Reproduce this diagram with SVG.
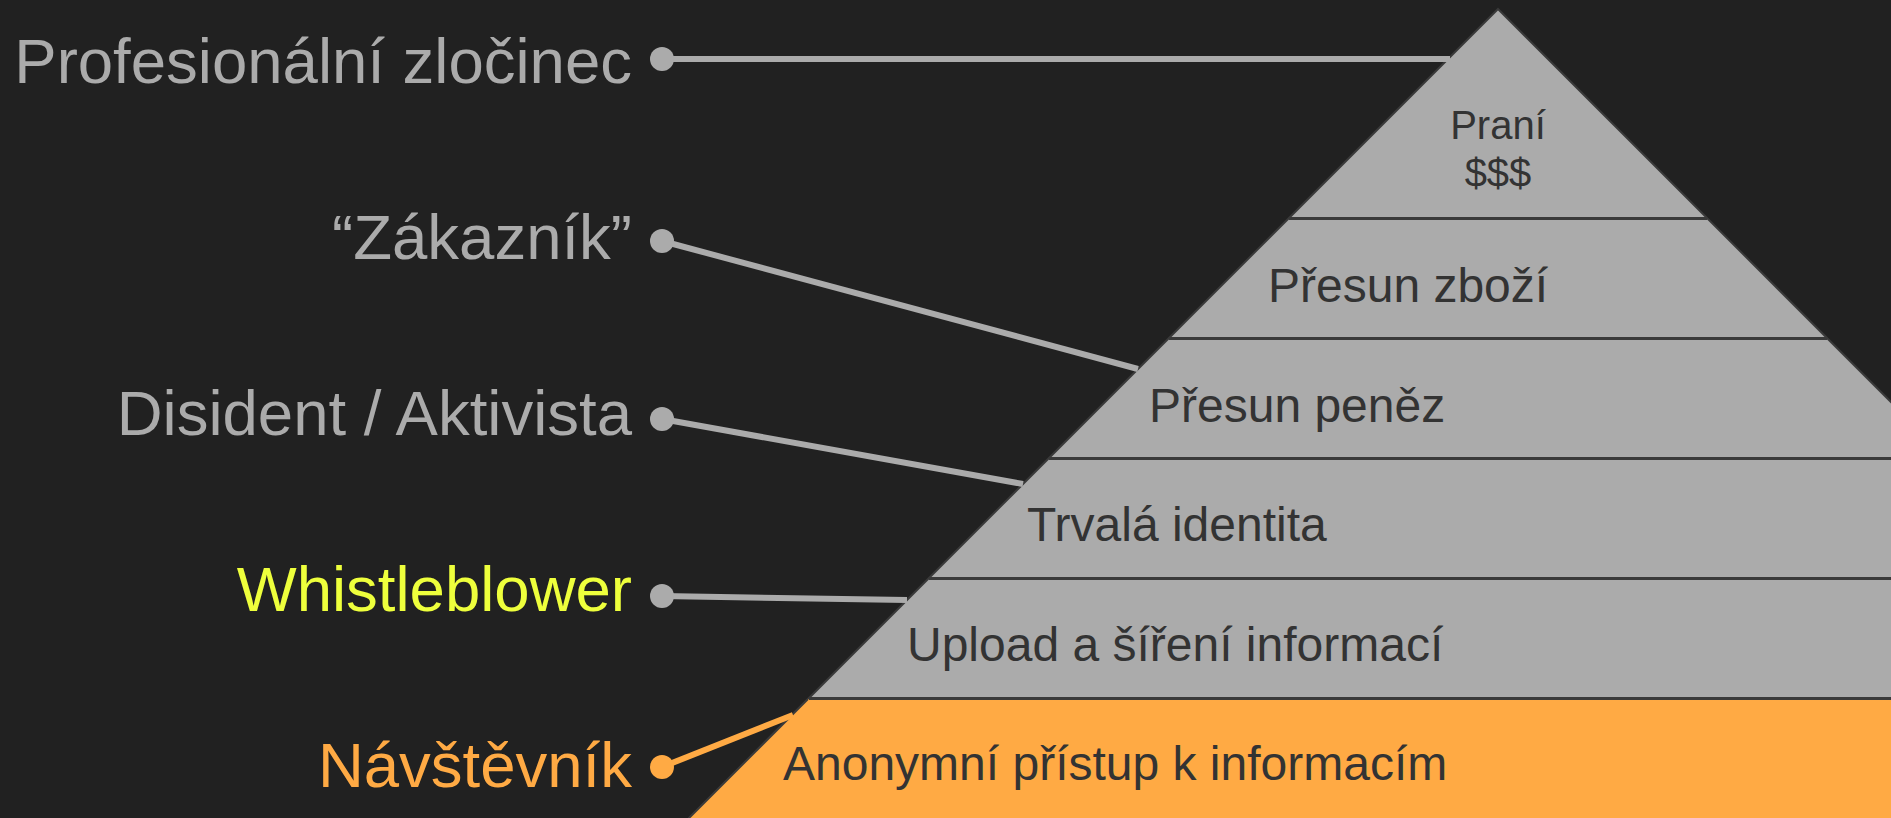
<svg xmlns="http://www.w3.org/2000/svg" width="1891" height="818" viewBox="0 0 1891 818">
<style>
.lbl{font-family:"Liberation Sans",Arial,sans-serif;font-size:63.5px;text-anchor:end}
.band{font-family:"Liberation Sans",Arial,sans-serif;font-size:48px;fill:#333333}
.top{font-family:"Liberation Sans",Arial,sans-serif;font-size:40px;fill:#333333;text-anchor:middle}
.sep{stroke:#3a3a3a;stroke-width:3}
.conn{stroke:#ababab;stroke-width:6;fill:none}
.grey{fill:#ababab}
</style>
<rect width="1891" height="818" fill="#212121"/>
<g id="pyramid">
  <polygon points="1498,9 2307,818 689,818" fill="#ababab" stroke="#3a3a3a" stroke-width="2"/>
  <polygon points="808,699 2188,699 2307,818 689,818" fill="#ffaa44"/>
  <line x1="689" y1="818" x2="808" y2="699" stroke="#3a3a3a" stroke-width="2"/>
  <line class="sep" x1="1289" y1="218.5" x2="1707" y2="218.5"/>
  <line class="sep" x1="1169" y1="338.5" x2="1827" y2="338.5"/>
  <line class="sep" x1="1049" y1="458.5" x2="1891" y2="458.5"/>
  <line class="sep" x1="929" y1="578.5" x2="1891" y2="578.5"/>
  <line class="sep" x1="809" y1="698.5" x2="1891" y2="698.5"/>
</g>
<g id="level-prani">
  <text class="top" x="1498" y="139">Praní</text>
  <text class="top" x="1498" y="187">$$$</text>
</g>
<g id="level-presun-zbozi"><text class="band" x="1268" y="302">Přesun zboží</text></g>
<g id="level-presun-penez"><text class="band" x="1149" y="421.5">Přesun peněz</text></g>
<g id="level-trvala-identita"><text class="band" x="1027" y="541">Trvalá identita</text></g>
<g id="level-upload"><text class="band" x="907" y="660.5">Upload a šíření informací</text></g>
<g id="level-anonymni"><text class="band" x="783" y="780">Anonymní přístup k informacím</text></g>
<g id="connectors">
  <line class="conn" x1="662" y1="59" x2="1450" y2="59"/>
  <line class="conn" x1="662" y1="241" x2="1138" y2="369"/>
  <line class="conn" x1="662" y1="419" x2="1023" y2="484"/>
  <line class="conn" x1="662" y1="596" x2="907" y2="600"/>
  <line x1="662" y1="767" x2="793" y2="715" stroke="#ffaa44" stroke-width="6"/>
</g>
<g id="label-profesionalni">
  <text class="lbl" x="632" y="83" fill="#ababab">Profesionální zločinec</text>
  <circle class="grey" cx="662" cy="59" r="12"/>
</g>
<g id="label-zakaznik">
  <text class="lbl" x="632" y="259" fill="#ababab">“Zákazník”</text>
  <circle class="grey" cx="662" cy="241" r="12"/>
</g>
<g id="label-disident">
  <text class="lbl" x="632" y="435" fill="#ababab">Disident / Aktivista</text>
  <circle class="grey" cx="662" cy="419" r="12"/>
</g>
<g id="label-whistleblower">
  <text class="lbl" x="632" y="611" fill="#eeff3c">Whistleblower</text>
  <circle class="grey" cx="662" cy="596" r="12"/>
</g>
<g id="label-navstevnik">
  <text class="lbl" x="632" y="787" fill="#ffaa44">Návštěvník</text>
  <circle cx="662" cy="767" r="12" fill="#ffaa44"/>
</g>
</svg>
